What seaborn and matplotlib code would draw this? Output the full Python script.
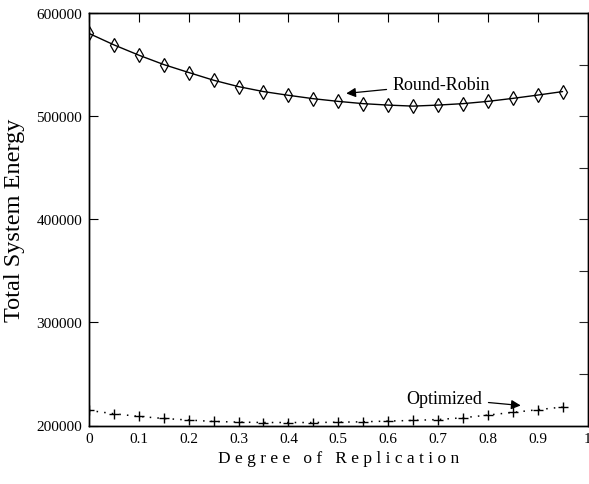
import numpy as np
import pandas as pd
import matplotlib
matplotlib.use("Agg")
import matplotlib.pyplot as plt
import seaborn as sns

# ---- data ----
replication = [0.0, 0.05, 0.1, 0.15, 0.2, 0.25, 0.3, 0.35, 0.4, 0.45,
               0.5, 0.55, 0.6, 0.65, 0.7, 0.75, 0.8, 0.85, 0.9, 0.95]
round_robin = [580200, 569100, 559100, 550000, 542300, 534800, 528600, 523800,
               520200, 516900, 514300, 512100, 510700, 509700, 510700, 512100,
               514300, 517200, 520400, 523800]
optimized = [214600, 211400, 208800, 206800, 205300, 203900, 203300, 202900,
             202900, 202900, 203200, 203600, 204300, 204900, 205800, 207500,
             210100, 212700, 215300, 217900]
x_ticks = [0, 0.1, 0.2, 0.3, 0.4, 0.5, 0.6, 0.7, 0.8, 0.9, 1]
x_tick_labels = ["0", "0.1", "0.2", "0.3", "0.4", "0.5", "0.6", "0.7", "0.8", "0.9", "1"]
y_ticks = [200000, 300000, 400000, 500000, 600000]
y_tick_labels = ["200000", "300000", "400000", "500000", "600000"]
y2_ticks = [250000, 300000, 350000, 400000, 450000, 500000, 550000]
x_label = "D e g r e e   o f   R e p l i c a t i o n"
y_label = "Total System Energy"

df = pd.DataFrame({"x": replication, "rr": round_robin, "opt": optimized})

sns.set_theme(style="white")
plt.rcParams["font.family"] = ["Liberation Serif", "DejaVu Serif"]

fig = plt.figure(figsize=(5.89, 4.85), dpi=100)
ax = fig.add_axes([89 / 589, 1 - 426.5 / 485, 498.5 / 589, 412.5 / 485])

sns.lineplot(data=df, x="x", y="rr", ax=ax, color="black", linewidth=1.0,
             marker="d", markersize=7.5, markerfacecolor="none",
             markeredgecolor="black", markeredgewidth=0.9)
sns.lineplot(data=df, x="x", y="opt", ax=ax, color="black", linewidth=1.1,
             linestyle=(0, (1, 4)), marker="+", markersize=7.5,
             markeredgecolor="black", markeredgewidth=1.0)

ax.set_xlim(0, 1)
ax.set_ylim(200000, 600000)
ax.set_xticks(x_ticks)
ax.set_xticklabels(x_tick_labels)
ax.set_yticks(y_ticks)
ax.set_yticklabels(y_tick_labels)
ax.tick_params(axis="both", direction="in", length=6.5, width=0.8,
               labelsize=11, colors="black", pad=5)
ax.tick_params(axis="x", top=True, pad=4.5)
ax.tick_params(axis="y", left=True, right=False)

ax2 = ax.twinx()
ax2.set_ylim(200000, 600000)
ax2.set_yticks(y2_ticks)
ax2.set_yticklabels([])
ax2.tick_params(axis="y", direction="in", length=6.5, width=0.8, right=True)
ax2.grid(False)

for a in (ax, ax2):
    for s in a.spines.values():
        s.set_color("black")
        s.set_linewidth(1.0)

ax.set_xlabel(x_label, fontsize=12.5, color="black", labelpad=4)
ax.set_ylabel(y_label, fontsize=17.5, color="black", labelpad=8)

ax.annotate("Round-Robin", xy=(0.516, 522000), xytext=(0.609, 531100),
            fontsize=13, ha="left", va="center", color="black",
            arrowprops=dict(arrowstyle="-|>", color="black", lw=0.9,
                            mutation_scale=14, shrinkA=2, shrinkB=0))
ax.annotate("Optimized", xy=(0.866, 219400), xytext=(0.637, 226200),
            fontsize=13, ha="left", va="center", color="black",
            arrowprops=dict(arrowstyle="-|>", color="black", lw=0.9,
                            mutation_scale=14, shrinkA=2, shrinkB=0))

fig.savefig("out.png", dpi=100)
